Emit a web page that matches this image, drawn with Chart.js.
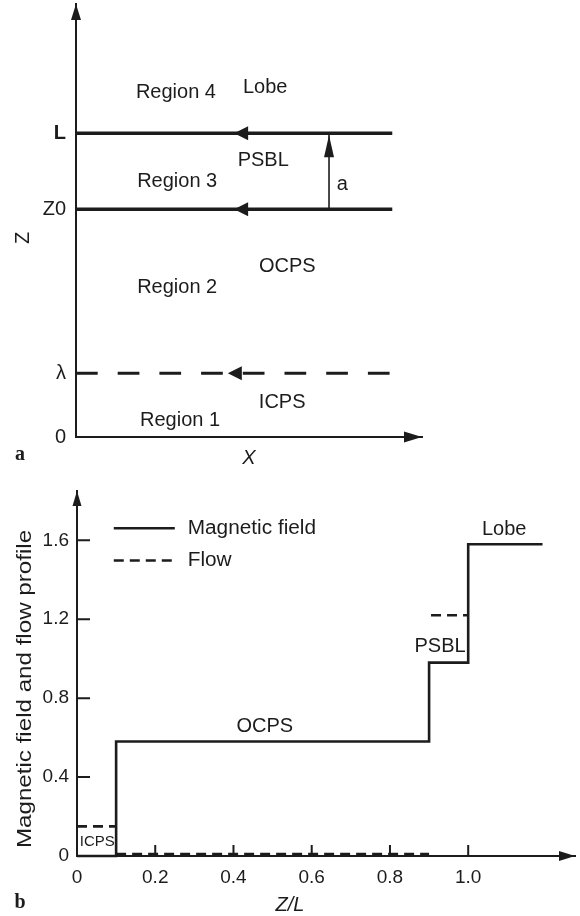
<!DOCTYPE html>
<html>

<head>
  <meta charset="UTF-8">
  <title>Magnetic field and flow profile</title>
  <script src="https://cdn.jsdelivr.net/npm/chart.js"></script>
  <style>
    body {
      margin: 0;
      background: #fff;
    }

    canvas {
      position: absolute;
      left: 0;
    }

    #schematic {
      top: 0;
    }

    #profile {
      top: 460px;
    }
  </style>
</head>

<body>
  <canvas id="schematic" width="580" height="472"></canvas>
  <canvas id="profile" width="580" height="456"></canvas>

  <script>
    const INK = '#1c1c1c';
    const SANS = "'Liberation Sans', Arial, sans-serif";
    const SERIF = "'Liberation Serif', 'DejaVu Serif', serif";

    // panel a : boundaries along Z (in units of L)
    const boundaryTicks = ['0', 'λ', 'Z0', 'L'];
    const boundaryZ = [0, 0.21, 0.75, 1.0];
    const sheetX = [0, 1];

    // panel b : profiles against Z/L
    const fieldZ = [0, 0.1, 0.9, 1.0, 1.19];
    const fieldB = [0, 0.58, 0.98, 1.58, 1.58];
    const flowZ = [0, 0.1, 0.1, 0.1, 0.9, 0.9, 0.905, 1.0];
    const flowV = [0.15, 0.15, null, 0.01, 0.01, null, 1.22, 1.22];
    const xTicks = [0, 0.2, 0.4, 0.6, 0.8, 1.0];
    const yTicks = [0, 0.4, 0.8, 1.2, 1.6];

    function fmt(v) {
      return v === 0 ? '0' : v.toFixed(1);
    }

    function arrowHead(ctx, x, y, angle, len, half) {
      ctx.save();
      ctx.translate(x, y);
      ctx.rotate(angle);
      ctx.beginPath();
      ctx.moveTo(0, 0);
      ctx.lineTo(-len, -half);
      ctx.lineTo(-len, half);
      ctx.closePath();
      ctx.fillStyle = INK;
      ctx.fill();
      ctx.restore();
    }

    function label(ctx, str, x, y, font, opts = {}) {
      ctx.save();
      ctx.translate(x, y);
      if (opts.rotate) ctx.rotate(opts.rotate);
      ctx.scale(opts.sx || 1, 1);
      ctx.font = font;
      ctx.fillStyle = INK;
      ctx.textAlign = opts.align || 'center';
      ctx.textBaseline = 'middle';
      ctx.fillText(str, 0, 0);
      ctx.restore();
    }

    // keep the plot box exactly where the layout padding puts it
    function noEdgePadding(s) {
      s.paddingTop = 0;
      s.paddingBottom = 0;
      s.paddingLeft = 0;
      s.paddingRight = 0;
    }

    // ---------- panel a ----------
    const schematicLabels = [
      ['Region 4', 0.316, 1.136], ['Lobe', 0.598, 1.152],
      ['PSBL', 0.592, 0.912], ['Region 3', 0.320, 0.840], ['a', 0.842, 0.830],
      ['OCPS', 0.668, 0.560], ['Region 2', 0.320, 0.491],
      ['ICPS', 0.652, 0.115], ['Region 1', 0.329, 0.056]
    ];

    const sheets = boundaryZ.slice(1).map((z, i) => ({
      data: sheetX.map(x => ({ x, y: z })),
      borderColor: INK,
      borderWidth: i === 0 ? 3 : 3.5,
      borderDash: i === 0 ? [21.7, 20] : [],
      pointRadius: 0,
      clip: false
    }));

    const thickness = {
      data: [{ x: 0.8, y: boundaryZ[2] }, { x: 0.8, y: boundaryZ[3] }],
      borderColor: INK,
      borderWidth: 1.6,
      pointRadius: 0,
      clip: false
    };

    const schematicDeco = {
      id: 'schematicDeco',
      afterDatasetsDraw(chart) {
        const { ctx, chartArea: a, scales: { x, y } } = chart;
        arrowHead(ctx, a.left, a.top, -Math.PI / 2, 16, 5);
        arrowHead(ctx, a.right, a.bottom, 0, 18, 5.5);
        boundaryZ.slice(1).forEach((z, i) => {
          arrowHead(ctx, x.getPixelForValue(i === 0 ? 0.48 : 0.5), y.getPixelForValue(z), Math.PI, 14, 7);
        });
        arrowHead(ctx, x.getPixelForValue(0.8), y.getPixelForValue(boundaryZ[3]) + 2, -Math.PI / 2, 22, 5);

        schematicLabels.forEach(([t, vx, vy]) => {
          label(ctx, t, x.getPixelForValue(vx), y.getPixelForValue(vy), '20px ' + SANS);
        });
        label(ctx, 'X', (a.left + a.right) / 2, a.bottom + 21, 'italic 20px ' + SANS);
        label(ctx, 'Z', 23, 238, '20px ' + SANS, { rotate: -Math.PI / 2 });
        label(ctx, 'a', 20, 455, 'bold 20px ' + SERIF);
      }
    };

    new Chart(document.getElementById('schematic'), {
      type: 'line',
      data: { datasets: [...sheets, thickness] },
      options: {
        responsive: false,
        animation: false,
        layout: { padding: { top: 4, right: 158, left: 0, bottom: 0 } },
        plugins: { legend: { display: false }, tooltip: { enabled: false } },
        scales: {
          x: {
            type: 'linear', min: 0, max: 1.094,
            grid: { display: false, drawTicks: false },
            border: { color: INK, width: 2 },
            ticks: { display: false },
            afterFit: s => { s.height = 35; noEdgePadding(s); }
          },
          y: {
            type: 'linear', min: 0, max: 1.426,
            grid: { display: false, drawTicks: false },
            border: { color: INK, width: 2 },
            afterBuildTicks: s => { s.ticks = boundaryZ.map(v => ({ value: v })); },
            ticks: {
              padding: 10,
              color: INK,
              font: c => ({ family: SANS, size: 20, weight: c.index === 3 ? 'bold' : 'normal' }),
              callback: (v, i) => boundaryTicks[i]
            },
            afterFit: s => { s.width = 76; noEdgePadding(s); }
          }
        }
      },
      plugins: [schematicDeco]
    });

    // ---------- panel b ----------
    const profileLabels = [
      ['Lobe', 1.092, 1.656, 20], ['PSBL', 0.928, 1.061, 20],
      ['OCPS', 0.480, 0.655, 20], ['ICPS', 0.052, 0.071, 15]
    ];

    const profileDeco = {
      id: 'profileDeco',
      afterDatasetsDraw(chart) {
        const { ctx, chartArea: a, scales: { x, y } } = chart;
        const x0 = x.getPixelForValue(0), y0 = y.getPixelForValue(0);

        // inward tick marks
        ctx.save();
        ctx.strokeStyle = INK;
        ctx.lineWidth = 2;
        ctx.beginPath();
        yTicks.slice(1).forEach(v => {
          const py = y.getPixelForValue(v);
          ctx.moveTo(x0, py);
          ctx.lineTo(x0 + 13, py);
        });
        xTicks.slice(1).forEach(v => {
          const px = x.getPixelForValue(v);
          ctx.moveTo(px, y0);
          ctx.lineTo(px, y0 - 11);
        });
        ctx.stroke();
        ctx.restore();

        arrowHead(ctx, a.left, a.top, -Math.PI / 2, 15, 4.5);
        arrowHead(ctx, a.right, a.bottom, 0, 16, 5);

        profileLabels.forEach(([t, vx, vy, size]) => {
          label(ctx, t, x.getPixelForValue(vx), y.getPixelForValue(vy), size + 'px ' + SANS);
        });

        // legend
        const keys = [[0, 1.661], [1, 1.498]];
        keys.forEach(([di, vy]) => {
          const ds = chart.data.datasets[di];
          const py = y.getPixelForValue(vy);
          ctx.save();
          ctx.strokeStyle = ds.borderColor;
          ctx.lineWidth = ds.borderWidth;
          ctx.setLineDash(ds.borderDash || []);
          ctx.beginPath();
          ctx.moveTo(x.getPixelForValue(0.094), py);
          ctx.lineTo(x.getPixelForValue(0.25), py);
          ctx.stroke();
          ctx.restore();
          label(ctx, ds.label, x.getPixelForValue(0.283), py, '20px ' + SANS, { align: 'left', sx: 1.04 });
        });

        label(ctx, 'Z/L', 290, 445, 'italic 20px ' + SANS);
        label(ctx, 'Magnetic field and flow profile', 25, 229, '21px ' + SANS, { rotate: -Math.PI / 2, sx: 1.15 });
        label(ctx, 'b', 20, 443, 'bold 20px ' + SERIF);
      }
    };

    new Chart(document.getElementById('profile'), {
      type: 'line',
      data: {
        datasets: [{
          label: 'Magnetic field',
          data: fieldZ.map((z, i) => ({ x: z, y: fieldB[i] })),
          stepped: 'before',
          borderColor: INK,
          borderWidth: 2.6,
          pointRadius: 0,
          clip: false
        }, {
          label: 'Flow',
          data: flowZ.map((z, i) => ({ x: z, y: flowV[i] })),
          borderColor: INK,
          borderWidth: 2.6,
          borderDash: [10, 6],
          spanGaps: false,
          pointRadius: 0,
          clip: false
        }]
      },
      options: {
        responsive: false,
        animation: false,
        layout: { padding: { top: 31, right: 5, left: 0, bottom: 0 } },
        plugins: { legend: { display: false }, tooltip: { enabled: false } },
        scales: {
          x: {
            type: 'linear', min: 0, max: 1.273,
            grid: { display: false, drawTicks: false },
            border: { color: INK, width: 2 },
            afterBuildTicks: s => { s.ticks = xTicks.map(v => ({ value: v })); },
            ticks: { padding: 10, color: INK, font: { family: SANS, size: 19 }, callback: (v, i) => fmt(xTicks[i]) },
            afterFit: s => { s.height = 60; noEdgePadding(s); }
          },
          y: {
            type: 'linear', min: 0, max: 1.85,
            grid: { display: false, drawTicks: false },
            border: { color: INK, width: 2 },
            afterBuildTicks: s => { s.ticks = yTicks.map(v => ({ value: v })); },
            ticks: { padding: 8, color: INK, font: { family: SANS, size: 19 }, callback: (v, i) => fmt(yTicks[i]) },
            afterFit: s => { s.width = 77; noEdgePadding(s); }
          }
        }
      },
      plugins: [profileDeco]
    });
  </script>
</body>

</html>
